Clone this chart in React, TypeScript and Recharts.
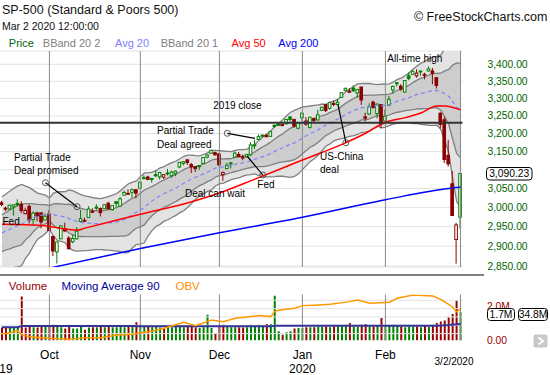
import React from 'react';
import {
  ComposedChart, Bar, Line, Area, XAxis, YAxis, CartesianGrid,
  ReferenceLine, ReferenceDot, Cell,
} from 'recharts';

// trading sessions shown, Sep 13 2019 .. Mar 2 2020
const dates = [
  '9/13', '9/16', '9/17', '9/18', '9/19', '9/20', '9/23', '9/24', '9/25', '9/26', '9/27', '9/30',
  '10/1', '10/2', '10/3', '10/4', '10/7', '10/8', '10/9', '10/10', '10/11', '10/14', '10/15', '10/16',
  '10/17', '10/18', '10/21', '10/22', '10/23', '10/24', '10/25', '10/28', '10/29', '10/30', '10/31',
  '11/1', '11/4', '11/5', '11/6', '11/7', '11/8', '11/11', '11/12', '11/13', '11/14', '11/15', '11/18',
  '11/19', '11/20', '11/21', '11/22', '11/25', '11/26', '11/27', '11/29',
  '12/2', '12/3', '12/4', '12/5', '12/6', '12/9', '12/10', '12/11', '12/12', '12/13', '12/16', '12/17',
  '12/18', '12/19', '12/20', '12/23', '12/24', '12/26', '12/27', '12/30', '12/31',
  '1/2', '1/3', '1/6', '1/7', '1/8', '1/9', '1/10', '1/13', '1/14', '1/15', '1/16', '1/17', '1/21',
  '1/22', '1/23', '1/24', '1/27', '1/28', '1/29', '1/30', '1/31',
  '2/3', '2/4', '2/5', '2/6', '2/7', '2/10', '2/11', '2/12', '2/13', '2/14', '2/18', '2/19', '2/20',
  '2/21', '2/24', '2/25', '2/26', '2/27', '2/28',
  '3/2',
];

// closes of the 19 sessions before 9/13 (the 20 day bands need them)
const priorCloses = [
  2888.68, 2923.65, 2900.51, 2924.43, 2922.95, 2847.11, 2878.38, 2869.16, 2887.94, 2924.58,
  2926.46, 2906.27, 2937.78, 2976.0, 2978.71, 2978.43, 2979.39, 3000.93, 3009.57,
];

const opens = [
  3012.21, 2996.41, 2995.67, 3001.5, 3010.36, 3008.42, 2983.5, 3002.43, 2968.35, 2985.73, 2985.47, 2967.07,
  2983.69, 2924.78, 2885.38, 2918.56, 2944.23, 2920.4, 2911.1, 2918.55, 2963.07, 2965.81, 2973.61, 2989.68,
  3000.77, 2996.84, 2996.48, 3010.73, 2994.01, 3014.78, 3003.32, 3032.12, 3035.39, 3039.74, 3046.9,
  3050.72, 3078.96, 3080.8, 3075.1, 3087.02, 3081.25, 3080.33, 3089.28, 3084.18, 3090.75, 3107.92, 3117.91,
  3127.45, 3114.66, 3108.49, 3111.41, 3117.44, 3134.85, 3145.49, 3147.18,
  3143.85, 3087.41, 3103.5, 3119.21, 3134.62, 3141.86, 3135.36, 3135.75, 3141.23, 3166.65, 3183.63, 3195.4,
  3195.21, 3192.32, 3223.33, 3226.05, 3225.45, 3227.2, 3247.23, 3240.09, 3215.18,
  3244.67, 3226.36, 3217.55, 3241.86, 3238.59, 3266.03, 3281.81, 3271.13, 3285.35, 3282.27, 3302.97, 3323.66,
  3321.03, 3330.02, 3315.77, 3333.1, 3247.16, 3255.35, 3289.46, 3256.45, 3282.33,
  3235.66, 3280.61, 3324.91, 3344.92, 3335.54, 3318.28, 3365.87, 3370.5, 3365.9, 3378.08, 3369.04, 3380.39,
  3380.45, 3360.5, 3257.61, 3238.94, 3139.9, 3062.54, 2916.9,
  2974.28,
];

const highs = [
  3017.33, 3002.19, 3006.21, 3007.83, 3021.19, 3016.37, 2999.15, 3007.98, 2989.82, 2987.28, 2987.31, 2983.85,
  2992.53, 2924.78, 2911.13, 2953.74, 2959.75, 2925.47, 2929.32, 2948.46, 2993.28, 2972.84, 3003.28, 2997.54,
  3008.29, 3000.0, 3007.33, 3014.57, 3004.78, 3016.07, 3027.39, 3044.08, 3047.87, 3050.1, 3046.9,
  3066.95, 3085.2, 3083.95, 3078.34, 3097.77, 3093.09, 3088.33, 3102.61, 3098.06, 3098.2, 3120.46, 3124.17,
  3127.64, 3118.97, 3110.11, 3112.87, 3133.83, 3142.69, 3154.26, 3150.3,
  3144.31, 3094.97, 3119.38, 3119.45, 3150.6, 3148.87, 3142.12, 3143.98, 3176.28, 3182.68, 3197.71, 3198.22,
  3198.48, 3205.48, 3225.65, 3227.78, 3226.43, 3240.08, 3247.93, 3240.92, 3231.72,
  3258.14, 3246.15, 3246.84, 3244.91, 3267.07, 3275.58, 3282.99, 3288.13, 3294.25, 3298.66, 3317.11, 3329.88,
  3329.79, 3337.77, 3326.88, 3333.18, 3258.85, 3285.78, 3293.47, 3285.91, 3282.33,
  3268.44, 3306.92, 3337.58, 3347.96, 3341.42, 3352.26, 3375.63, 3381.47, 3385.09, 3380.69, 3375.01, 3393.52,
  3389.15, 3360.76, 3259.81, 3246.99, 3182.51, 3097.07, 2959.72,
  3090.96,
];

const lows = [
  3002.9, 2990.67, 2993.73, 2978.57, 3003.16, 2984.68, 2982.23, 2957.73, 2952.86, 2963.71, 2945.53, 2967.07,
  2938.7, 2874.93, 2855.96, 2918.56, 2935.68, 2892.66, 2907.41, 2917.12, 2963.07, 2962.94, 2973.61, 2985.2,
  2991.79, 2976.31, 2995.35, 2995.04, 2991.21, 3000.42, 3001.94, 3032.12, 3034.81, 3025.96, 3023.19,
  3050.72, 3074.87, 3072.15, 3065.89, 3080.23, 3073.58, 3075.82, 3084.73, 3078.8, 3083.26, 3104.6, 3112.06,
  3113.47, 3091.41, 3094.55, 3099.26, 3117.44, 3131.0, 3143.41, 3139.34,
  3110.78, 3070.33, 3102.53, 3103.76, 3134.62, 3135.46, 3126.09, 3133.21, 3138.47, 3156.51, 3183.63, 3191.03,
  3191.14, 3192.32, 3216.03, 3222.3, 3220.51, 3227.2, 3234.37, 3216.57, 3212.03,
  3235.53, 3222.34, 3214.64, 3232.43, 3236.67, 3263.67, 3260.86, 3268.43, 3277.19, 3280.69, 3302.82, 3318.86,
  3316.61, 3320.04, 3301.87, 3281.53, 3234.5, 3253.22, 3271.89, 3242.8, 3214.68,
  3235.66, 3280.61, 3313.75, 3334.39, 3322.12, 3317.77, 3352.72, 3369.72, 3360.52, 3366.15, 3355.61, 3378.83,
  3341.02, 3328.45, 3214.65, 3118.77, 3108.99, 2977.39, 2855.84,
  2945.19,
];

const closes = [
  3007.39, 2997.96, 3005.7, 3006.73, 3006.79, 2992.07, 2991.78, 2966.6, 2984.87, 2977.62, 2961.79, 2976.74,
  2940.25, 2887.61, 2910.63, 2952.01, 2938.79, 2893.06, 2919.4, 2938.13, 2970.27, 2966.15, 2995.68, 2989.69,
  2997.95, 2986.2, 3006.72, 2995.99, 3004.52, 3010.29, 3022.55, 3039.42, 3036.89, 3046.77, 3037.56,
  3066.91, 3078.27, 3074.62, 3076.78, 3085.18, 3093.08, 3087.01, 3091.84, 3094.04, 3096.63, 3120.46, 3122.03,
  3120.18, 3108.46, 3103.54, 3110.29, 3133.64, 3140.52, 3153.63, 3140.98,
  3113.87, 3093.2, 3112.76, 3117.43, 3145.91, 3135.96, 3132.52, 3141.63, 3168.57, 3168.8, 3191.45, 3192.52,
  3191.14, 3205.37, 3221.22, 3224.01, 3223.38, 3239.91, 3240.02, 3221.29, 3230.78,
  3257.85, 3234.85, 3246.28, 3237.18, 3253.05, 3274.7, 3265.35, 3288.13, 3283.15, 3289.29, 3316.81, 3329.62,
  3320.79, 3321.75, 3325.54, 3295.47, 3243.63, 3276.24, 3273.4, 3283.66, 3225.52,
  3248.92, 3297.59, 3334.69, 3345.78, 3327.71, 3352.09, 3357.75, 3379.45, 3373.94, 3380.16, 3370.29, 3386.15,
  3373.23, 3337.75, 3225.89, 3128.21, 3116.39, 2978.76, 2954.22,
  3090.23,
];

// volume in millions
const volumes = [
  0.78, 0.8, 0.78, 0.82, 0.8, 2.65, 0.78, 0.85, 0.8, 0.78, 0.82, 0.85,
  0.85, 0.95, 0.9, 0.8, 0.72, 0.82, 0.72, 0.72, 0.88, 0.65, 0.78, 0.8, 0.8, 0.85, 0.8, 0.82, 0.8, 0.8, 0.85, 0.8, 0.82, 0.85, 1.1,
  0.95, 0.85, 0.82, 0.8, 0.85, 0.78, 0.7, 0.8, 0.8, 0.85, 0.85, 0.8, 0.82, 0.85, 0.8, 0.75, 0.8, 1.55, 0.75, 0.45,
  0.85, 0.95, 0.85, 0.8, 0.8, 0.8, 0.78, 0.8, 0.95, 0.9, 0.95, 0.9, 1.0, 1.0, 2.7, 0.55, 0.35, 0.5, 0.55, 0.72, 0.75,
  0.75, 0.8, 0.8, 0.8, 0.85, 0.85, 0.85, 0.8, 0.85, 0.85, 0.9, 0.95, 1.05, 0.85, 0.85, 0.95, 1.0, 0.85, 0.85, 0.9, 1.35,
  0.85, 0.9, 0.95, 0.9, 0.85, 0.8, 0.85, 0.85, 0.85, 0.8, 0.9, 0.85, 0.95, 1.05, 1.15, 1.2, 1.4, 1.6, 2.4,
  1.7,
];

// moving averages
const ma50Dates = ['9/13', '9/27', '10/10', '10/14', '11/1', '11/20', '12/2', '12/13', '1/2', '1/16', '1/27', '2/3', '2/10', '2/14', '2/21', '2/25', '3/2'];
const ma50Values = [2956, 2953, 2941, 2946, 2982, 3015, 3038, 3075, 3127, 3170, 3201, 3232, 3245, 3258, 3278, 3278, 3267];

const ma200Dates = ['9/13', '10/3', '11/1', '12/2', '1/2', '2/3', '2/26', '3/2'];
const ma200Values = [2818, 2849, 2894, 2934, 2974, 3020, 3050, 3053];

const ma90Dates = ['9/13', '9/19', '9/20', '10/30', '11/1', '12/19', '12/20', '2/21', '2/26', '3/2'];
const ma90Values = [0.8, 0.8, 0.88, 0.88, 0.86, 0.86, 0.89, 0.89, 0.93, 0.99];

const obvDates = [
  '9/13', '9/17', '9/18', '9/19', '9/20', '9/24', '10/1', '10/8', '10/14', '10/18', '10/24', '10/30',
  '11/6', '11/11', '11/18', '11/21', '11/27', '12/3', '12/6', '12/16', '12/19', '12/20', '12/23', '12/30',
  '1/2', '1/8', '1/13', '1/21', '1/23', '1/28', '2/4', '2/6', '2/12', '2/20', '2/24', '2/26', '2/27', '2/28', '3/2',
];
const obvValues = [
  19.6, 20.5, 21.1, 21.6, 19.2, 18.1, 17.2, 16.6, 17.5, 17.5, 19.2, 19.6,
  21.6, 23.2, 26.8, 24.7, 28.2, 27.1, 29.2, 30.8, 30.2, 33.4, 34.0, 35.2,
  36.8, 37.2, 37.6, 39.2, 40.2, 38.2, 38.8, 41.2, 43.2, 42.6, 40.6, 37.6, 36.0, 33.1, 34.8,
];

const priceTicks = [2850, 2900, 2950, 3000, 3050, 3100, 3150, 3200, 3250, 3300, 3350, 3400];
const monthDates = ['10/1', '11/1', '12/2', '1/2', '2/3', '3/2'];
const axisDates = ['9/13', '10/1', '11/1', '12/2', '1/2', '2/3', '3/2'];
const axisLabels = ['2019', 'Oct', 'Nov', 'Dec', 'Jan', 'Feb', '3/2/2020'];

const FONT = '"Liberation Sans", Arial, sans-serif';
const W = 550;
const H = 375;

const toMap = (keys: string[], vals: number[]) =>
  Object.fromEntries(keys.map((k, i) => [k, vals[i]]));
const ma50Map = toMap(ma50Dates, ma50Values);
const ma200Map = toMap(ma200Dates, ma200Values);
const ma90Map = toMap(ma90Dates, ma90Values);
const obvMap = toMap(obvDates, obvValues);

const allCloses = [...priorCloses, ...closes];

const data = dates.map((date, i) => {
  const win = allCloses.slice(i, i + 20);
  const mid = win.reduce((s, v) => s + v, 0) / 20;
  const sd = Math.sqrt(win.reduce((s, v) => s + (v - mid) ** 2, 0) / 20);
  return {
    date,
    open: opens[i],
    high: highs[i],
    low: lows[i],
    close: closes[i],
    range: [lows[i], highs[i]],
    up: closes[i] >= allCloses[i + 18],
    vol: volumes[i],
    mid,
    band2: [mid - 2 * sd, mid + 2 * sd],
    band1: [mid - sd, mid + sd],
    ma50: ma50Map[date] ?? null,
    ma200: ma200Map[date] ?? null,
    ma90: ma90Map[date] ?? null,
    obv: obvMap[date] ?? null,
  };
});

const last = data.length - 1;
const close2019 = closes[dates.indexOf('12/31')];
const fmt2 = (v: number) =>
  v.toLocaleString('en-US', { minimumFractionDigits: 2, maximumFractionDigits: 2 });

const GREEN = '#008000';
const RED = '#8b0000';

// candle drawn inside the [low, high] bar that recharts positions
const Candle = (props: any) => {
  const { x, y, width, height, payload } = props;
  const { open, close, high, low, up } = payload;
  const span = Math.log(high) - Math.log(low);
  const py = (v: number) => y + ((Math.log(high) - Math.log(v)) / span) * height;
  const cx = x + width / 2;
  const color = up ? GREEN : RED;
  const top = py(Math.max(open, close));
  const bot = py(Math.min(open, close));
  const hollow = close > open;
  return (
    <g>
      <line x1={cx} x2={cx} y1={y} y2={y + height} stroke={color} strokeWidth={1} />
      <rect x={cx - 1.3} y={top} width={2.6} height={Math.max(bot - top, 1)}
        fill={hollow ? '#ffffff' : color} stroke={color} strokeWidth={1} />
    </g>
  );
};

// the 3,100 label sits under the last-price box in the original, so it is left out
const PriceTick = (p: any) => (
  p.payload.value === 3100 ? <g /> : (
    <text x={487.5} y={p.y} dy={3.6} fill="#006400" fontSize={10.3} fontFamily={FONT}>
      {fmt2(p.payload.value)}
    </text>
  )
);

const VolTick = (p: any) => (
  <text x={487} y={p.y} dy={3.2} fill="#990000" fontSize={10.3} fontFamily={FONT}>
    {p.payload.value === 0 ? '0.00' : `${p.payload.value.toFixed(1)}M`}
  </text>
);

const ObvTick = (p: any) => (
  <text x={518} y={p.y} dy={3.6} fill="#ff8c00" fontSize={10.5} fontFamily={FONT}>
    {`${p.payload.value.toFixed(1)}M`}
  </text>
);

const DateTick = (p: any) => {
  const label = axisLabels[axisDates.indexOf(p.payload.value)];
  const x = p.x;
  if (label === '2019') {
    return <text x={x - 2.7} y={373} textAnchor="middle" fontSize={12} fontFamily={FONT}>{label}</text>;
  }
  if (label === '3/2/2020') {
    return <text x={x - 6.5} y={365.3} textAnchor="middle" fontSize={10} fontFamily={FONT}>{label}</text>;
  }
  return (
    <g>
      <text x={x} y={359.3} textAnchor="middle" fontSize={12} fontFamily={FONT}>{label}</text>
      {label === 'Jan' && (
        <text x={x} y={373.3} textAnchor="middle" fontSize={12} fontFamily={FONT}>2020</text>
      )}
    </g>
  );
};

// annotation connectors (date, price)
const noteLinks = [
  { a: ['9/30', 3065.4], b: ['10/10', 3001.8], dotA: true, dotB: true },
  { a: ['12/4', 3200.8], b: ['12/13', 3186.9], dotA: true, dotB: false },
  { a: ['12/17', 3086.1], b: ['12/11', 3137.9], dotA: true, dotB: false },
  { a: ['1/17', 3174.6], b: ['1/15', 3281.9], dotA: true, dotB: false },
];

const noteTexts = [
  { t: 'Partial Trade', x: 14, y: 157 },
  { t: 'Deal promised', x: 14, y: 170.5 },
  { t: 'Fed', x: 2.5, y: 221.5 },
  { t: 'Partial Trade', x: 157, y: 130.5 },
  { t: 'Deal agreed', x: 157, y: 144 },
  { t: '2019 close', x: 213.3, y: 105 },
  { t: 'Deal can wait', x: 185, y: 193 },
  { t: 'Fed', x: 257.3, y: 184 },
  { t: 'US-China', x: 320, y: 156 },
  { t: 'deal', x: 320, y: 169.5 },
  { t: 'All-time high', x: 387.3, y: 58.5 },
];

const legendTop = [
  { t: 'Price', x: 8.8, c: '#006400' },
  { t: 'BBand 20 2', x: 42.8, c: '#808080' },
  { t: 'Avg 20', x: 115, c: '#8080ff' },
  { t: 'BBand 20 1', x: 160.7, c: '#808080' },
  { t: 'Avg 50', x: 231.6, c: '#ff0000' },
  { t: 'Avg 200', x: 278.3, c: '#0000ff' },
];

const legendBottom = [
  { t: 'Volume', x: 8.8, c: '#990000' },
  { t: 'Moving Average 90', x: 61.4, c: '#000099' },
  { t: 'OBV', x: 175.5, c: '#ff8c00' },
];

export default function App() {
  return (
    <div style={{ position: 'absolute', left: 0, top: 0, width: W, height: H, background: '#fff', overflow: 'hidden' }}>
      <div style={{ position: 'absolute', left: 0, top: 0 }}>
        <ComposedChart width={W} height={H} data={data} margin={{ top: 51, right: 0, bottom: 108, left: 0 }}>
          <CartesianGrid vertical={false} stroke="#e2e2e2" />
          <XAxis dataKey="date" hide />
          <YAxis orientation="right" scale="log" domain={[2847.5, 3439.8]} allowDataOverflow
            ticks={priceTicks} interval={0} width={87.5} axisLine={false} tickLine={false} tick={PriceTick} />
          <Area dataKey="band2" stroke="#7f7f7f" strokeWidth={1.3} fill="#e3e3e3" fillOpacity={1}
            isAnimationActive={false} dot={false} activeDot={false} />
          <Area dataKey="band1" stroke="#7f7f7f" strokeWidth={1.3} fill="#cdcdcd" fillOpacity={1}
            isAnimationActive={false} dot={false} activeDot={false} />
          {monthDates.map((d) => (
            <ReferenceLine key={d} x={d} stroke="#8a8a8a" strokeWidth={1} />
          ))}
          <Line dataKey="mid" stroke="#8080ff" strokeWidth={1.2} strokeDasharray="4 3" dot={false}
            isAnimationActive={false} />
          <Line dataKey="ma200" stroke="#0000ff" strokeWidth={1.5} dot={false} connectNulls type="monotone"
            isAnimationActive={false} />
          <Line dataKey="ma50" stroke="#ff0000" strokeWidth={1.5} dot={false} connectNulls type="monotone"
            isAnimationActive={false} />
          <ReferenceLine y={close2019} stroke="#333333" strokeWidth={2} />
          <Bar dataKey="range" barSize={3} shape={Candle} isAnimationActive={false} />
          {noteLinks.map((n, i) => (
            <ReferenceLine key={`l${i}`} segment={[{ x: n.a[0], y: n.a[1] }, { x: n.b[0], y: n.b[1] }]}
              stroke="#000000" strokeWidth={1.2} />
          ))}
          {noteLinks.map((n, i) => n.dotA && (
            <ReferenceDot key={`a${i}`} x={n.a[0]} y={n.a[1] as number} r={3} fill="none" stroke="#555555" />
          ))}
          {noteLinks.map((n, i) => n.dotB && (
            <ReferenceDot key={`b${i}`} x={n.b[0]} y={n.b[1] as number} r={3} fill="none" stroke="#555555" />
          ))}
        </ComposedChart>
      </div>

      <div style={{ position: 'absolute', left: 0, top: 0 }}>
        <ComposedChart width={W} height={H} data={data} margin={{ top: 294.5, right: 0, bottom: 0, left: 0 }}>
          <XAxis dataKey="date" ticks={axisDates} interval={0} height={34.5} axisLine={false} tickLine={false}
            tick={DateTick} />
          <YAxis yAxisId="vol" orientation="right" domain={[0, 2.771]} allowDataOverflow ticks={[0, 1, 2]}
            width={87.5} axisLine={false} tickLine={false} tick={VolTick} />
          <YAxis yAxisId="obv" orientation="right" domain={[15.86, 43.48]} allowDataOverflow ticks={[20, 30, 40]}
            width={0} axisLine={false} tickLine={false} tick={ObvTick} />
          {[20, 25, 30, 35, 40].map((v) => (
            <ReferenceLine key={v} yAxisId="obv" y={v} stroke="#e2e2e2" />
          ))}
          {monthDates.map((d) => (
            <ReferenceLine key={d} yAxisId="vol" x={d} stroke="#8a8a8a" />
          ))}
          <Bar yAxisId="vol" dataKey="vol" barSize={2} isAnimationActive={false}>
            {data.map((d, i) => (
              <Cell key={i} fill={d.up ? GREEN : '#990000'} />
            ))}
          </Bar>
          <Line yAxisId="vol" dataKey="ma90" stroke="#333399" strokeWidth={2} dot={false} connectNulls
            isAnimationActive={false} />
          <Line yAxisId="obv" dataKey="obv" stroke="#ff9900" strokeWidth={1.5} dot={false} connectNulls
            isAnimationActive={false} />
        </ComposedChart>
      </div>

      <svg width={W} height={H} style={{ position: 'absolute', left: 0, top: 0, pointerEvents: 'none' }}
        fontFamily={FONT}>
        <text x={2} y={9.5} dominantBaseline="central" fontSize={12.5} fill="#111">SP-500 (Standard &amp; Poors 500)</text>
        <text x={2} y={25.7} dominantBaseline="central" fontSize={10.5} fill="#111">Mar 2 2020 12:00:00</text>
        <text x={547.5} y={16.7} textAnchor="end" dominantBaseline="central" fontSize={12.5} fill="#111">© FreeStockCharts.com</text>

        {legendTop.map((l) => (
          <text key={l.t} x={l.x} y={43.3} dominantBaseline="central" fontSize={11} fill={l.c}>{l.t}</text>
        ))}
        {legendBottom.map((l) => (
          <text key={l.t} x={l.x} y={285.7} dominantBaseline="central" fontSize={11.5} fill={l.c}>{l.t}</text>
        ))}

        {noteTexts.map((n, i) => (
          <text key={i} x={n.x} y={n.y} dominantBaseline="central" fontSize={10} fill="#000">{n.t}</text>
        ))}

        <line x1={0} x2={484} y1={275} y2={275} stroke="#555" strokeWidth={1.5} />

        <rect x={486.5} y={167.5} width={45.5} height={12.5} rx={3} fill="#fff" stroke="#000" />
        <text x={509.2} y={173.9} textAnchor="middle" dominantBaseline="central" fontSize={10.3} fill="#000">
          {fmt2(closes[last])}
        </text>

        <rect x={487.5} y={308.5} width={27} height={12} rx={3} fill="#fff" stroke="#000" />
        <text x={501} y={314.6} textAnchor="middle" dominantBaseline="central" fontSize={10.3} fill="#000">
          {`${volumes[last].toFixed(1)}M`}
        </text>
        <rect x={518.5} y={308.5} width={29} height={12} rx={3} fill="#fff" stroke="#000" />
        <text x={533} y={314.6} textAnchor="middle" dominantBaseline="central" fontSize={10.3} fill="#000">
          {`${obvValues[obvValues.length - 1].toFixed(1)}M`}
        </text>

        <rect x={533.5} y={334.5} width={14} height={13} rx={2} fill="#c8c8c8" />
        <path d="M538.5 337.5 L543 341 L538.5 344.5" stroke="#fff" strokeWidth={2} fill="none" />
      </svg>
    </div>
  );
}
